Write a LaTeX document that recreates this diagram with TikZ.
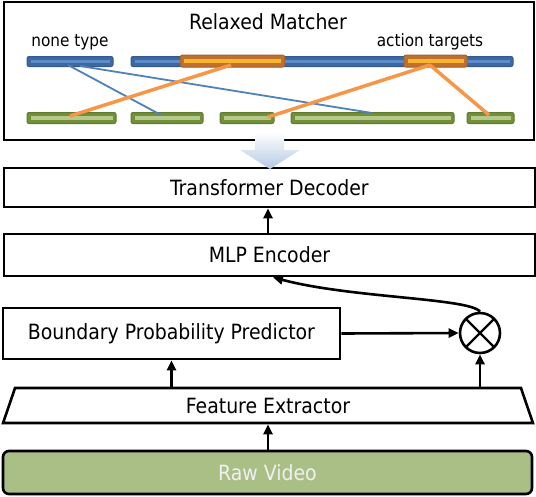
\documentclass[tikz,border=0pt]{standalone}
\usepackage{fontspec}
\setmainfont{DejaVu Sans Condensed}
\usepackage{tikz}
\usetikzlibrary{arrows.meta,positioning,shapes.geometric,calc}

\definecolor{barblue}{HTML}{3D69A3}
\definecolor{barblueD}{HTML}{335A8C}
\definecolor{barblueL}{HTML}{5D8BCB}
\definecolor{barorange}{HTML}{BF702F}
\definecolor{barorangeD}{HTML}{A9632B}
\definecolor{barorangeL}{HTML}{F7B531}
\definecolor{bargreen}{HTML}{728F3A}
\definecolor{bargreenD}{HTML}{607A30}
\definecolor{bargreenL}{HTML}{B5C98B}
\definecolor{lineblue}{HTML}{4F81BD}
\definecolor{lineorange}{HTML}{F79646}
\definecolor{videogreen}{HTML}{A9BF86}
\definecolor{arrowblue}{HTML}{B4C9E4}

\begin{document}
\begin{tikzpicture}[
    x=1pt, y=-1pt,
    >={Triangle[length=10pt,width=9pt]},
    block/.style={
        rectangle,
        draw=black,
        line width=2.6pt,
        fill=white,
        minimum width=#1,
        inner sep=0pt,
        font=\fontsize{21}{24}\selectfont
    },
    bar/.style n args={4}{
        rectangle,
        rounded corners=2pt,
        draw=#2,
        fill=#1,
        line width=1pt,
        minimum width=#4,
        minimum height=10pt,
        inner sep=0pt,
        path picture={
            \draw[#3, line width=3.2pt]
                ([xshift=3.5pt]path picture bounding box.west) --
                ([xshift=-3.5pt]path picture bounding box.east);
        }
    },
    label/.style={
        font=\fontsize{#1}{#1}\selectfont,
        inner sep=0pt
    },
    flow/.style={->, line width=2.6pt}
]
\useasboundingbox (0,0) rectangle (536,496);

% Relaxed matcher
\node[block=530pt, minimum height=138pt] (matcher) at (269,71) {};
\node[label=21] (title) at (268,22) {Relaxed Matcher};
\node[label=17] (none) at (70,42) {none type};
\node[label=17] (targets) at (430,42) {action targets};

% Query bars
\node[bar={barblue}{barblueD}{barblueL}{86pt}] (qnone) at (70,61.5) {};
\node[bar={barblue}{barblueD}{barblueL}{382pt}] (qlong) at (322,61.5) {};
\node[bar={barorange}{barorangeD}{barorangeL}{104pt}, minimum height=12pt] (qa) at (232.5,61) {};
\node[bar={barorange}{barorangeD}{barorangeL}{63pt}, minimum height=12pt] (qb) at (435.5,61) {};

% Ground-truth bars
\node[bar={bargreen}{bargreenD}{bargreenL}{89pt}, minimum height=11pt] (g1) at (71.5,118) {};
\node[bar={bargreen}{bargreenD}{bargreenL}{72pt}, minimum height=11pt] (g2) at (167,118) {};
\node[bar={bargreen}{bargreenD}{bargreenL}{54pt}, minimum height=11pt] (g3) at (247,118) {};
\node[bar={bargreen}{bargreenD}{bargreenL}{163pt}, minimum height=11pt] (g4) at (372.5,118) {};
\node[bar={bargreen}{bargreenD}{bargreenL}{47pt}, minimum height=11pt] (g5) at (490.5,118) {};

% Matches
\coordinate (n1) at (68,65);
\coordinate (n2) at (80,66);
\coordinate (a1) at (231,65);
\coordinate (b1) at (430,65);
\coordinate (m1) at (70,116);
\coordinate (m2) at (161,115);
\coordinate (m3) at (268,117);
\coordinate (m4) at (372,113);
\coordinate (m5) at (489,115);
\draw[lineblue, line width=1.8pt] (n1) -- (m2);
\draw[lineblue, line width=1.8pt] (n2) -- (m4);
\draw[lineorange, line width=3.5pt] (a1) -- (m1);
\draw[lineorange, line width=3.5pt] (b1) -- (m3);
\draw[lineorange, line width=3.5pt] (b1) -- (m5);

% Pipeline
\node[block=531pt, minimum height=39pt] (decoder) at (269.5,187.5) {Transformer Decoder};
\node[block=531pt, minimum height=42pt] (mlp) at (269.5,255) {MLP Encoder};
\node[block=337pt, minimum height=51pt] (bpp) at (171.5,333.5) {Boundary Probability Predictor};
\node[circle, draw=black, line width=2.6pt, fill=white, minimum size=40pt, inner sep=0pt,
    path picture={
        \draw[line width=2.4pt] (path picture bounding box.north west) -- (path picture bounding box.south east);
        \draw[line width=2.4pt] (path picture bounding box.north east) -- (path picture bounding box.south west);
    }] (mult) at (480,333) {};
\node[block=530pt, trapezium, trapezium left angle=76, trapezium right angle=76,
    trapezium stretches=true, minimum height=35pt] (feat) at (268,405.5) {Feature Extractor};
\node[block=529pt, minimum height=43pt, rounded corners=6pt, fill=videogreen,
    text=white!94!black] (video) at (267.5,472.5) {Raw Video};

% Arrows
\draw[flow] (video.north -| 268,0) -- (feat.south -| 268,0);
\draw[flow] (feat.north -| bpp.south) -- (bpp.south);
\draw[flow] (feat.north -| mult.south) -- (mult.south);
\draw[flow] (bpp.east) -- (mult.west);
\draw[flow] (mult.north) .. controls (470,298) and (350,298) .. (mlp.south -| 273,0);
\draw[flow] (mlp.north -| 268,0) -- (decoder.south -| 268,0);

% Matcher output
\shade[top color=white, middle color=arrowblue, bottom color=arrowblue]
    (255,132) -- (284,132) -- (284,150) -- (300,150) -- (270,169) -- (240,150) -- (255,150) -- cycle;

\end{tikzpicture}
\end{document}
